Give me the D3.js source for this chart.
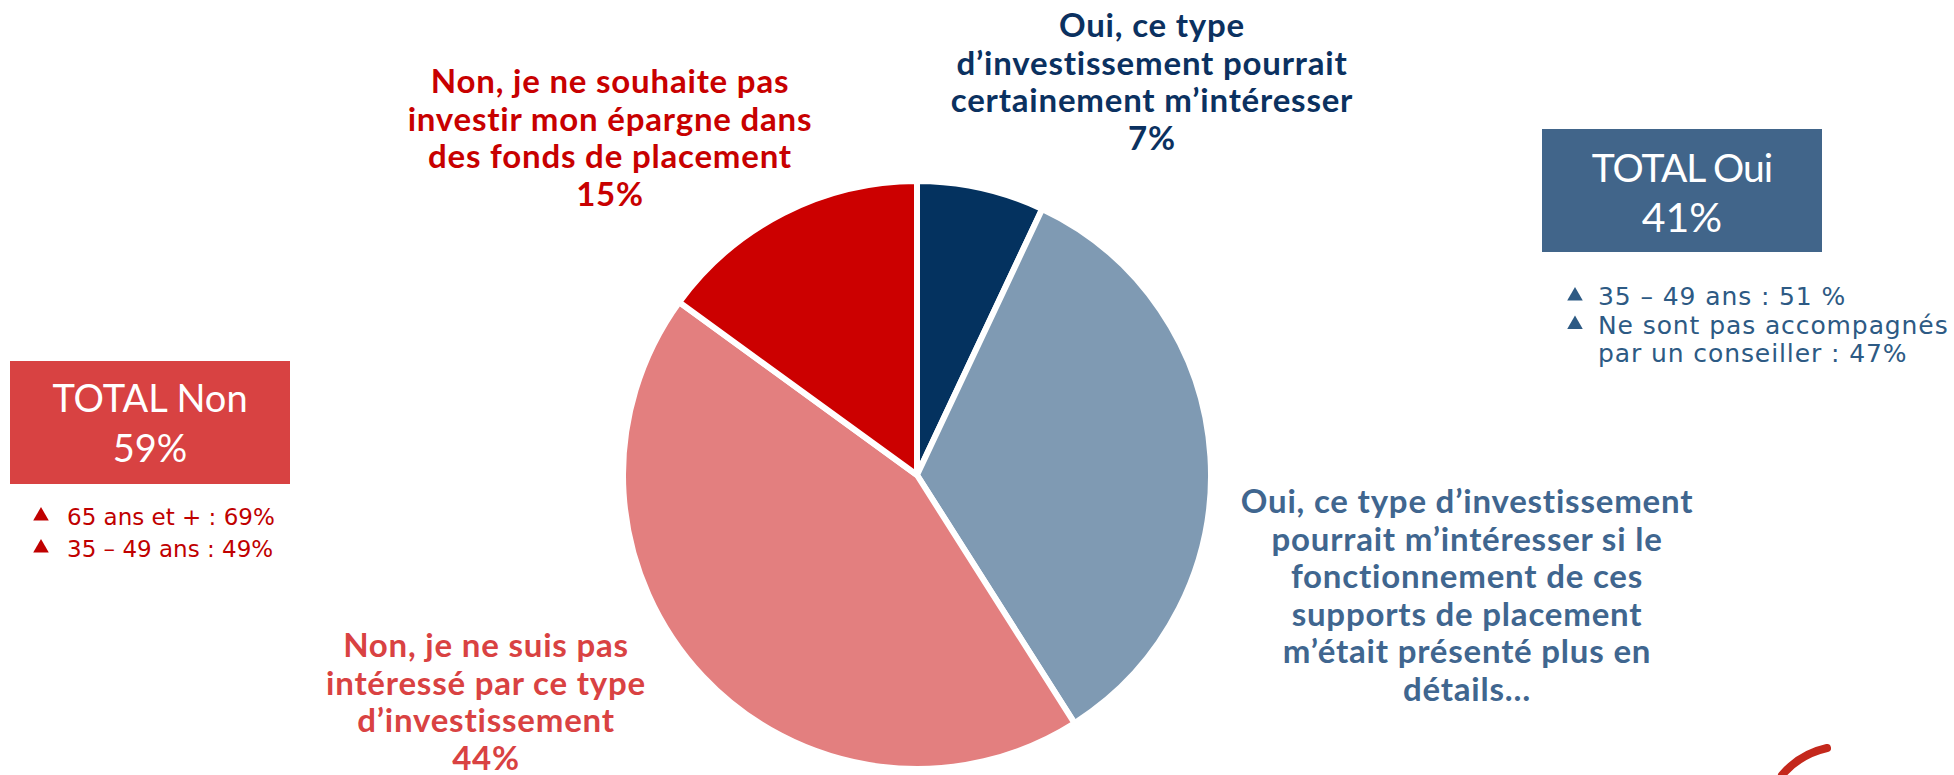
<!DOCTYPE html>
<html>
<head>
<meta charset="utf-8">
<script src="https://cdn.jsdelivr.net/npm/d3@7"></script>
<style>
  body { margin: 0; background: #fff; }
  svg { display: block; }
</style>
</head>
<body>
<svg id="chart" width="1954" height="775"></svg>
<script>
// slices, clockwise from 12 o'clock
const categories = [
  "Oui, ce type d’investissement pourrait certainement m’intéresser",
  "Oui, ce type d’investissement pourrait m’intéresser si le fonctionnement de ces supports de placement m’était présenté plus en détails…",
  "Non, je ne suis pas intéressé par ce type d’investissement",
  "Non, je ne souhaite pas investir mon épargne dans des fonds de placement"
];
const values = [7, 34, 44, 15];
const sliceColors = ["#04325f", "#7f9ab3", "#e37f7f", "#cc0000"];

// label lines as they wrap in the picture
const labelLines = [
  ["Oui, ce type", "d’investissement pourrait", "certainement m’intéresser", "7%"],
  ["Oui, ce type d’investissement", "pourrait m’intéresser si le", "fonctionnement de ces", "supports de placement", "m’était présenté plus en", "détails…"],
  ["Non, je ne suis pas", "intéressé par ce type", "d’investissement", "44%"],
  ["Non, je ne souhaite pas", "investir mon épargne dans", "des fonds de placement", "15%"]
];
const labelColors = ["#0b3160", "#40668f", "#d94242", "#c80000"];

const totals = [
  { title: "TOTAL Oui", value: "41%" },
  { title: "TOTAL Non", value: "59%" }
];
const ouiNotes = ["35 – 49 ans : 51 %", "Ne sont pas accompagnés", "par un conseiller : 47%"];
const nonNotes = ["65 ans et + : 69%", "35 – 49 ans : 49%"];

const svg = d3.select('#chart');
const cx = 917, cy = 475, radius = 294;

// pie
let pie = d3.pie().sort(null).value(d => d);
let arc = d3.arc().innerRadius(0).outerRadius(radius);

svg.append('g')
    .attr('transform', `translate(${cx},${cy})`)
    .selectAll('path')
    .data(pie(values))
    .join('path')
    .attr('d', arc)
    .attr('fill', (d, i) => sliceColors[i])
    .attr('stroke', '#fff')
    .attr('stroke-width', 6)
    .attr('stroke-linejoin', 'miter');

// slice labels (centre x, first baseline)
const labelPos = [
  { x: 1152, y: 37 },
  { x: 1467, y: 513 },
  { x: 486, y: 657 },
  { x: 610, y: 93 }
];
const LINE_H = 37.6;

labelLines.forEach((lines, i) => {
  svg.append('text')
      .attr('x', labelPos[i].x)
      .attr('y', labelPos[i].y)
      .attr('text-anchor', 'middle')
      .attr('fill', labelColors[i])
      .style('font-family', 'Lato, "Noto Sans", sans-serif')
      .style('font-weight', 'bold')
      .style('font-size', '33px')
      .style('letter-spacing', '0.8px')
      .selectAll('tspan')
      .data(lines)
      .join('tspan')
      .attr('x', labelPos[i].x)
      .attr('dy', (d, j) => j == 0 ? 0 : LINE_H)
      .text(d => d);
});

// TOTAL Oui box
svg.append('rect')
    .attr('x', 1542).attr('y', 129)
    .attr('width', 280).attr('height', 123)
    .attr('fill', '#41658a');
svg.append('text')
    .attr('x', 1682).attr('y', 182)
    .attr('text-anchor', 'middle').attr('fill', '#fff')
    .style('font-family', 'Lato, sans-serif').style('font-size', '39px')
    .style('letter-spacing', '-1px')
    .text(totals[0].title);
svg.append('text')
    .attr('x', 1682).attr('y', 232)
    .attr('text-anchor', 'middle').attr('fill', '#fff')
    .style('font-family', 'Lato, sans-serif').style('font-size', '41px')
    .text(totals[0].value);

// TOTAL Non box
svg.append('rect')
    .attr('x', 10).attr('y', 361)
    .attr('width', 280).attr('height', 123)
    .attr('fill', '#d84242');
svg.append('text')
    .attr('x', 150).attr('y', 412)
    .attr('text-anchor', 'middle').attr('fill', '#fff')
    .style('font-family', 'Lato, sans-serif').style('font-size', '38px')
    .text(totals[1].title);
svg.append('text')
    .attr('x', 150).attr('y', 462)
    .attr('text-anchor', 'middle').attr('fill', '#fff')
    .style('font-family', 'Lato, sans-serif').style('font-size', '38px')
    .text(totals[1].value);

// bullet notes
function notes(list, x, y0, step, size, spacing, color, bullets, gap) {
  let g = svg.append('g');
  g.selectAll('text')
      .data(list)
      .join('text')
      .attr('x', x)
      .attr('y', (d, i) => y0 + i * step)
      .attr('fill', color)
      .style('font-family', '"DejaVu Sans", sans-serif')
      .style('font-size', size + 'px')
      .style('letter-spacing', spacing + 'px')
      .text(d => d);
  // triangles only on bullet lines
  g.selectAll('path')
      .data(bullets)
      .join('path')
      .attr('d', d3.symbol(d3.symbolTriangle, 105))
      .attr('transform', i => `translate(${x - gap},${y0 + i * step - 9})`)
      .attr('fill', color);
}
notes(ouiNotes, 1598, 305, 28.5, 25, 0.9, '#2d5a84', [0, 1], 23);
notes(nonNotes, 67, 525, 32, 23, 0, '#c00000', [0, 1], 26);

// corner logo fragment
svg.append('path')
    .attr('d', 'M1782,775 Q1800,754 1827,748')
    .attr('fill', 'none')
    .attr('stroke', '#c4281c')
    .attr('stroke-width', 8)
    .attr('stroke-linecap', 'round');
</script>
</body>
</html>
